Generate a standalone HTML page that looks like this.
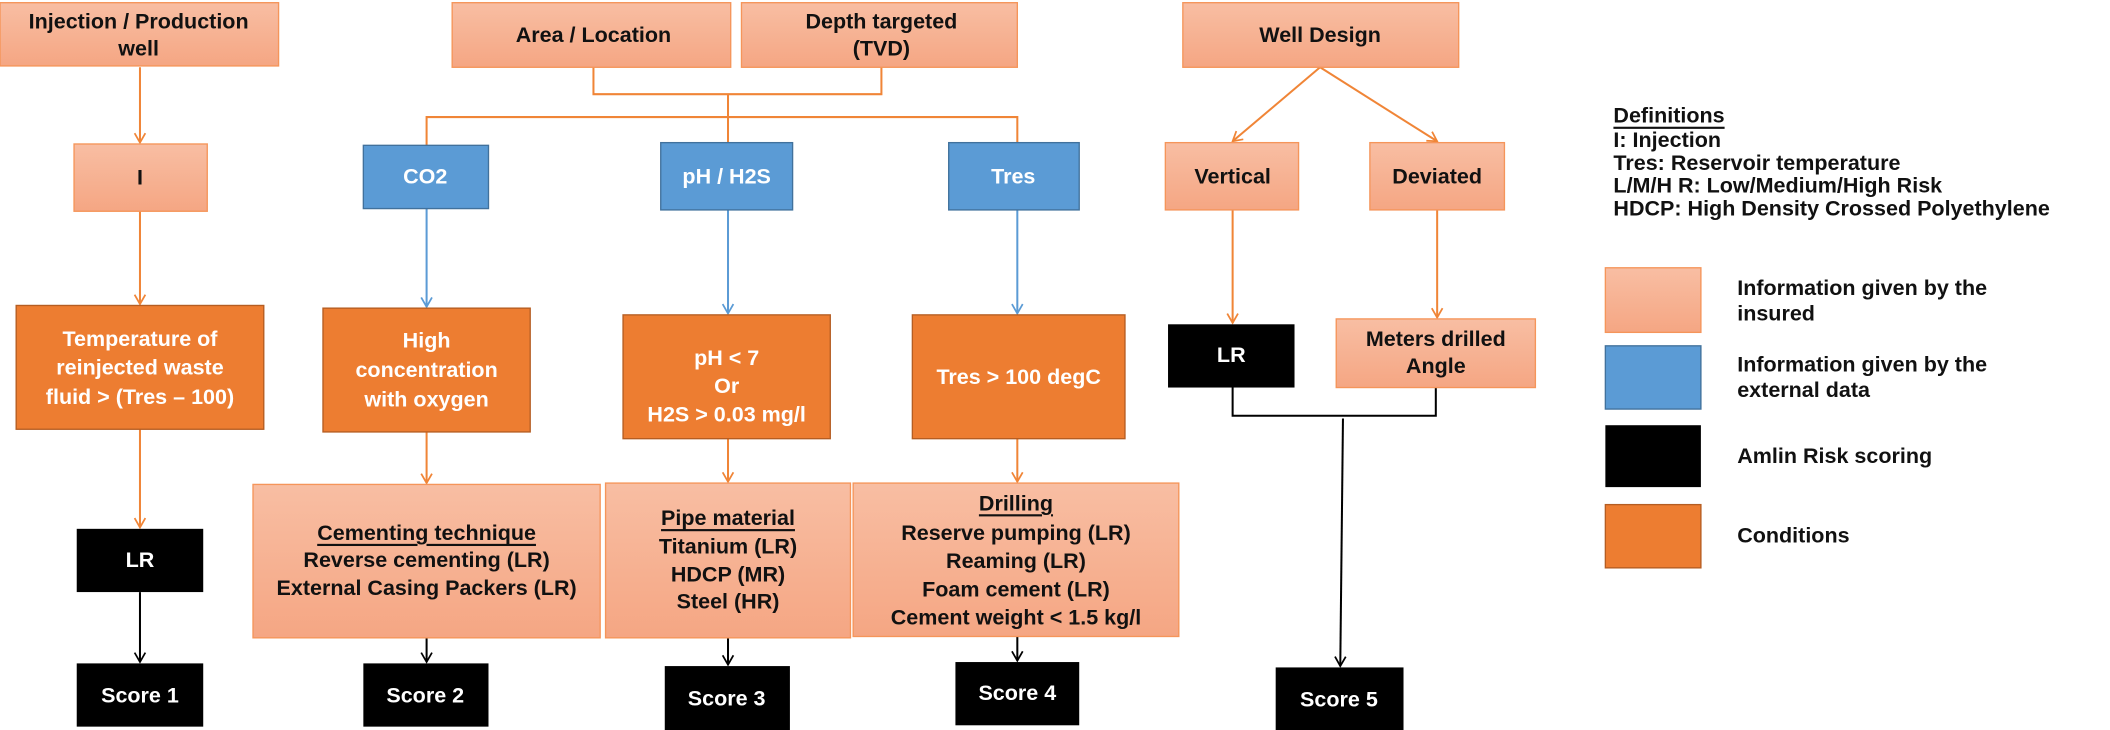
<!DOCTYPE html>
<html><head><meta charset="utf-8"><style>
html,body{margin:0;padding:0;background:#fff;}
svg{display:block;}
text{font-family:"Liberation Sans",Arial,sans-serif;font-weight:bold;}
</style></head><body>
<svg width="2110" height="730" viewBox="0 0 1568 542.5" xmlns="http://www.w3.org/2000/svg">
<defs>
<linearGradient id="pg" x1="0" y1="0" x2="0" y2="1"><stop offset="0" stop-color="#f8bea3"/><stop offset="1" stop-color="#f5a683"/></linearGradient>
<marker id="ao" markerWidth="10" markerHeight="10" refX="8" refY="5" orient="auto" markerUnits="userSpaceOnUse"><path d="M1,1 L8,5 L1,9" fill="none" stroke="#f08537" stroke-width="1.3"/></marker>
<marker id="ab" markerWidth="10" markerHeight="10" refX="8" refY="5" orient="auto" markerUnits="userSpaceOnUse"><path d="M1,1 L8,5 L1,9" fill="none" stroke="#5b9bd5" stroke-width="1.3"/></marker>
<marker id="ak" markerWidth="10" markerHeight="10" refX="8" refY="5" orient="auto" markerUnits="userSpaceOnUse"><path d="M1,1 L8,5 L1,9" fill="none" stroke="#000" stroke-width="1.3"/></marker>
</defs>

<g fill="none" stroke="#f08537" stroke-width="1.5">
<line x1="104" y1="50" x2="104" y2="106" marker-end="url(#ao)"/>
<line x1="104" y1="157" x2="104" y2="226" marker-end="url(#ao)"/>
<polyline points="441,50 441,70 655,70 655,50"/>
<line x1="541" y1="70" x2="541" y2="87"/>
<polyline points="317,108 317,87 756,87 756,108"/>
<line x1="541" y1="87" x2="541" y2="106"/>
<line x1="981" y1="50" x2="916" y2="105" marker-end="url(#ao)"/>
<line x1="981" y1="50" x2="1068" y2="105" marker-end="url(#ao)"/>
<line x1="916" y1="156" x2="916" y2="240" marker-end="url(#ao)"/>
<line x1="1068" y1="156" x2="1068" y2="236" marker-end="url(#ao)"/>
<line x1="104" y1="319" x2="104" y2="392" marker-end="url(#ao)"/>
<line x1="317" y1="321" x2="317" y2="359" marker-end="url(#ao)"/>
<line x1="541" y1="326" x2="541" y2="358" marker-end="url(#ao)"/>
<line x1="756" y1="326" x2="756" y2="358" marker-end="url(#ao)"/>
</g>
<g fill="none" stroke="#5b9bd5" stroke-width="1.5">
<line x1="317" y1="155" x2="317" y2="228" marker-end="url(#ab)"/>
<line x1="541" y1="156" x2="541" y2="233" marker-end="url(#ab)"/>
<line x1="756" y1="156" x2="756" y2="233" marker-end="url(#ab)"/>
</g>
<g fill="none" stroke="#000" stroke-width="1.5">
<line x1="104" y1="440" x2="104" y2="492" marker-end="url(#ak)"/>
<line x1="317" y1="474" x2="317" y2="492" marker-end="url(#ak)"/>
<line x1="541" y1="474" x2="541" y2="494" marker-end="url(#ak)"/>
<line x1="756" y1="473" x2="756" y2="491" marker-end="url(#ak)"/>
<polyline points="916,288 916,309 1067,309 1067,288"/>
<line x1="998" y1="311" x2="996" y2="495" marker-end="url(#ak)"/>
</g>

<g fill="url(#pg)" stroke="#f5955a" stroke-width="1">
<rect x="0" y="2" width="207" height="47"/>
<rect x="336" y="2" width="207" height="48"/>
<rect x="551" y="2" width="205" height="48"/>
<rect x="879" y="2" width="205" height="48"/>
<rect x="55" y="107" width="99" height="50"/>
<rect x="866" y="106" width="99" height="50"/>
<rect x="1018" y="106" width="100" height="50"/>
<rect x="993" y="237" width="148" height="51"/>
<rect x="188" y="360" width="258" height="114"/>
<rect x="450" y="359" width="182" height="115"/>
<rect x="634" y="359" width="242" height="114"/>
<rect x="1193" y="199" width="71" height="48"/>
</g>
<g fill="#5b9bd5" stroke="#41719c" stroke-width="1">
<rect x="270" y="108" width="93" height="47"/>
<rect x="491" y="106" width="98" height="50"/>
<rect x="705" y="106" width="97" height="50"/>
<rect x="1193" y="257" width="71" height="47"/>
</g>
<g fill="#ed7d31" stroke="#b55d22" stroke-width="1">
<rect x="12" y="227" width="184" height="92"/>
<rect x="240" y="229" width="154" height="92"/>
<rect x="463" y="234" width="154" height="92"/>
<rect x="678" y="234" width="158" height="92"/>
<rect x="1193" y="375" width="71" height="47"/>
</g>
<g fill="#000">
<rect x="57" y="393" width="94" height="47"/>
<rect x="57" y="493" width="94" height="47"/>
<rect x="270" y="493" width="93" height="47"/>
<rect x="494" y="495" width="93" height="48"/>
<rect x="710" y="492" width="92" height="47"/>
<rect x="868" y="241" width="94" height="47"/>
<rect x="948" y="496" width="95" height="47"/>
<rect x="1193" y="316" width="71" height="46"/>
</g>

<g font-size="16" text-anchor="middle" dominant-baseline="central" fill="#111">
<text x="103" y="16">Injection / Production</text>
<text x="103" y="36">well</text>
<text x="441" y="26">Area / Location</text>
<text x="655" y="16">Depth targeted</text>
<text x="655" y="36">(TVD)</text>
<text x="981" y="26">Well Design</text>
<text x="104" y="132">I</text>
<text x="916" y="131">Vertical</text>
<text x="1068" y="131">Deviated</text>
<text x="1067" y="252">Meters drilled</text>
<text x="1067" y="272">Angle</text>
<text x="317" y="396" text-decoration="underline">Cementing technique</text>
<text x="317" y="416">Reverse cementing (LR)</text>
<text x="317" y="437">External Casing Packers (LR)</text>
<text x="541" y="385" text-decoration="underline">Pipe material</text>
<text x="541" y="406">Titanium (LR)</text>
<text x="541" y="427">HDCP (MR)</text>
<text x="541" y="447">Steel (HR)</text>
<text x="755" y="374" text-decoration="underline">Drilling</text>
<text x="755" y="396">Reserve pumping (LR)</text>
<text x="755" y="417">Reaming (LR)</text>
<text x="755" y="438">Foam cement (LR)</text>
<text x="755" y="459">Cement weight &lt; 1.5 kg/l</text>
</g>
<g font-size="16" text-anchor="middle" dominant-baseline="central" fill="#fff">
<text x="316" y="131">CO2</text>
<text x="540" y="131">pH / H2S</text>
<text x="753" y="131">Tres</text>
<text x="104" y="252">Temperature of</text>
<text x="104" y="273">reinjected waste</text>
<text x="104" y="295">fluid &gt; (Tres – 100)</text>
<text x="317" y="253">High</text>
<text x="317" y="275">concentration</text>
<text x="317" y="297">with oxygen</text>
<text x="540" y="266">pH &lt; 7</text>
<text x="540" y="287">Or</text>
<text x="540" y="308">H2S &gt; 0.03 mg/l</text>
<text x="757" y="280">Tres &gt; 100 degC</text>
<text x="104" y="416">LR</text>
<text x="915" y="264">LR</text>
<text x="104" y="517">Score 1</text>
<text x="316" y="517">Score 2</text>
<text x="540" y="519">Score 3</text>
<text x="756" y="515">Score 4</text>
<text x="995" y="520">Score 5</text>
</g>
<g font-size="16" fill="#111" dominant-baseline="central">
<text x="1199" y="86" text-decoration="underline">Definitions</text>
<text x="1199" y="104">I: Injection</text>
<text x="1199" y="121">Tres: Reservoir temperature</text>
<text x="1199" y="138">L/M/H R: Low/Medium/High Risk</text>
<text x="1199" y="155">HDCP: High Density Crossed Polyethylene</text>
<text x="1291" y="214">Information given by the</text>
<text x="1291" y="233">insured</text>
<text x="1291" y="271">Information given by the</text>
<text x="1291" y="290">external data</text>
<text x="1291" y="339">Amlin Risk scoring</text>
<text x="1291" y="398">Conditions</text>
</g>
</svg>
</body></html>
